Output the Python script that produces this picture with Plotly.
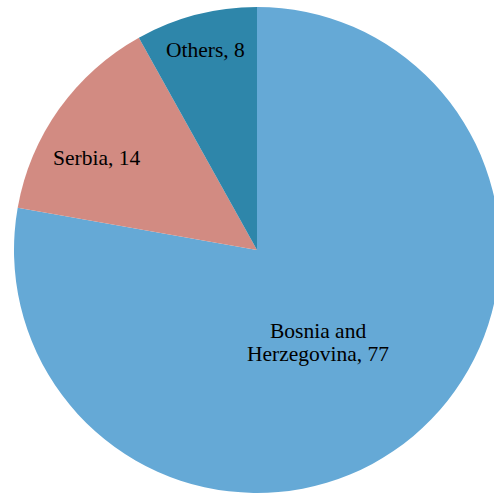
import plotly.graph_objects as go

countries = ["Bosnia and<br>Herzegovina", "Serbia", "Others"]
values = [77, 14, 8]
colors = ["#65A9D6", "#D28B82", "#2E86AA"]
# label centres in pixels (x from left, y from top)
label_px = [(318, 342), (96, 158), (205, 50)]
LINE_GAP = 23  # px between label lines

W, H = 512, 494
fig = go.Figure(go.Pie(
    labels=countries,
    values=values,
    sort=False,
    direction="clockwise",
    rotation=0,
    marker=dict(colors=colors, line=dict(width=0)),
    textinfo="none",
    hoverinfo="label+value",
    domain=dict(x=[13 / W, 501 / W], y=[1 / H, 487 / H]),
))
for name, val, (px, py) in zip(countries, values, label_px):
    lines = f"{name}, {val}".split("<br>")
    n = len(lines)
    for i, line in enumerate(lines):
        ly = py + (i - (n - 1) / 2) * LINE_GAP
        fig.add_annotation(
            x=px / W, y=1 - ly / H, xref="paper", yref="paper",
            text=line, showarrow=False,
            font=dict(family="Liberation Serif", size=21.5, color="black"),
            align="center", xanchor="center", yanchor="middle",
        )
fig.update_layout(
    width=W, height=H,
    margin=dict(l=0, r=0, t=0, b=0),
    showlegend=False,
    paper_bgcolor="white",
)
fig.write_html("out.html", config={"displayModeBar": False},
               post_script="document.body.style.overflow='hidden';document.body.style.margin='0';")
